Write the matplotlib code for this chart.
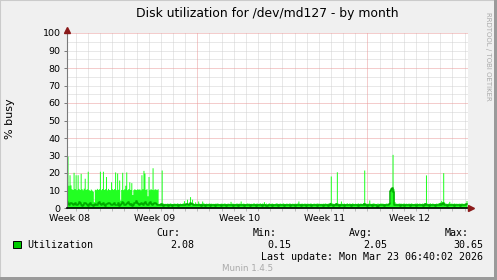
import matplotlib
matplotlib.use("Agg")
import matplotlib.pyplot as plt
from matplotlib.patches import Rectangle
from datetime import datetime, timedelta

W, H = 497, 280

title = "Disk utilization for /dev/md127 - by month"
ylabel = "% busy"
last_update = datetime(2026, 3, 23, 6, 40, 2)
span_days = 33
step_hours = 2
week_labels = ["Week 08", "Week 09", "Week 10", "Week 11", "Week 12"]
ytick_vals = [0, 10, 20, 30, 40, 50, 60, 70, 80, 90, 100]
legend_name = "Utilization"
stat_names = ["Cur:", "Min:", "Avg:", "Max:"]
stat_vals = ["2.08", "0.15", "2.05", "30.65"]

# peak values, one per 2h step (bright green)
util_max = [
    29.7, 13.0, 19.0, 13.2, 11.0, 10.6, 20.4, 11.1, 19.0, 10.5,
    19.0, 11.2, 10.6, 19.8, 11.0, 10.4, 11.3, 17.0, 10.6, 11.0,
    21.0, 10.5, 10.1, 10.8, 10.2, 9.6, 3.6, 10.7, 10.5, 11.2,
    10.6, 11.0, 21.0, 10.5, 11.1, 21.0, 10.6, 11.0, 18.0, 10.4,
    11.2, 10.6, 10.5, 15.0, 11.0, 10.6, 11.1, 20.6, 10.5, 20.0,
    10.7, 16.0, 4.6, 10.6, 20.4, 10.5, 11.0, 13.0, 20.6, 10.5,
    11.1, 15.0, 10.6, 14.5, 7.7, 10.5, 11.0, 10.6, 10.5, 11.1,
    10.6, 11.0, 10.4, 19.0, 11.0, 21.5, 20.0, 10.6, 11.0, 7.0,
    18.0, 10.5, 11.1, 10.6, 23.0, 10.5, 11.0, 10.8, 10.5, 11.0,
    2.6, 2.8, 2.7, 21.7, 2.9, 2.6, 2.7, 2.5, 2.8, 2.7, 2.6, 2.9, 2.7, 2.5, 2.6, 2.8, 2.7, 2.6, 2.9, 2.7,
    2.6, 2.8, 2.5, 2.7, 2.9, 4.2, 2.8, 2.6, 5.0, 2.7, 3.0, 6.5, 3.2, 5.0, 2.8, 2.6, 3.5, 2.7, 2.6, 4.0,
    2.8, 2.6, 2.7, 4.0, 2.9, 2.7, 2.5, 2.8, 2.6, 2.7, 2.9, 2.6, 2.8, 2.5, 2.7, 2.6, 2.8, 2.7, 2.9, 2.6,
    2.5, 2.7, 2.8, 2.6, 2.7, 2.9, 2.6, 2.5, 2.8, 2.7, 2.6, 3.8, 2.7, 2.8, 2.6, 2.5, 2.7, 2.9, 2.6, 2.8,
    2.7, 4.0, 2.6, 2.8, 2.7, 2.5, 2.6, 2.9, 2.7, 2.8, 2.6, 2.7, 2.5, 2.8, 2.9, 2.6, 2.7, 2.8, 2.6, 2.7,
    2.9, 2.6, 2.8, 2.7, 3.6, 2.6, 2.8, 2.5, 2.7, 2.9, 2.6, 2.7, 2.8, 2.6, 2.5, 2.7, 2.9, 2.8, 2.6, 2.7,
    2.8, 2.6, 2.7, 2.9, 2.5, 2.6, 2.8, 2.7, 2.6, 2.9, 2.7, 2.5, 2.8, 2.6, 2.7, 2.8, 2.6, 2.9, 4.0, 2.7,
    2.6, 2.8, 2.7, 2.5, 2.9, 2.6, 2.7, 2.8, 2.6, 2.7, 2.9, 2.5, 2.6, 2.8, 2.7, 2.6, 2.9, 2.7, 2.8, 2.6,
    2.7, 2.5, 2.8, 2.6, 2.9, 2.7, 2.6, 2.8, 2.7, 3.2, 18.3, 2.9, 2.7, 2.6, 2.8, 3.0, 20.7, 2.8, 2.6, 2.7,
    4.0, 2.7, 2.6, 2.8, 2.5, 2.7, 2.9, 2.6, 2.8, 2.7, 2.6, 2.9, 2.7, 2.5, 2.8, 2.6, 2.7, 2.9, 2.6, 2.8,
    2.7, 2.6, 3.1, 21.7, 2.9, 2.7, 2.6, 2.8, 4.6, 2.7, 2.6, 2.8, 2.9, 2.7, 2.5, 2.6, 2.8, 2.7, 2.6, 2.9,
    2.7, 2.8, 2.6, 2.5, 2.7, 2.9, 2.6, 2.8, 3.4, 11.0, 11.5, 30.65, 11.0, 3.6, 2.8, 2.7, 2.6, 2.9, 2.7, 2.8,
    2.6, 2.7, 2.9, 2.5, 2.8, 2.6, 2.7, 2.8, 2.6, 2.9, 2.7, 2.5, 2.6, 2.8, 2.7, 2.9, 2.6, 2.8, 2.7, 2.6,
    2.8, 2.7, 2.9, 3.0, 18.9, 2.8, 2.6, 2.7, 2.9, 2.6, 2.8, 2.7, 2.5, 2.6, 2.8, 2.7, 2.9, 3.1, 3.4, 4.4,
    3.6, 20.2, 3.2, 2.8, 2.7, 2.6, 2.9, 3.8, 2.7, 2.8, 2.6, 2.7, 2.9, 2.5, 2.8, 2.6, 2.7, 2.8, 2.6, 2.9,
    2.7, 2.6, 2.8, 2.9, 4.3, 2.8,
]

# average values, one per 2h step (dark green)
util_avg = [
    3.2, 2.4, 1.8, 2.6, 3.0, 2.1, 1.5, 2.2, 2.8, 1.9, 1.6, 2.4, 3.4, 2.7, 1.8, 1.4, 2.0, 2.6, 3.1, 2.3,
    1.7, 1.3, 2.1, 2.9, 1.8, 1.5, 1.2, 2.0, 2.5, 1.9, 1.6, 2.8, 3.6, 2.4, 1.7, 2.2, 2.9, 1.8, 1.4, 2.1,
    2.6, 3.0, 2.2, 1.7, 1.5, 2.3, 2.8, 2.0, 1.6, 1.9, 2.7, 1.3, 1.8, 2.4, 3.2, 2.6, 1.9, 1.5, 2.2, 2.8,
    3.4, 2.5, 1.8, 2.1, 1.4, 2.0, 2.6, 3.1, 3.8, 2.9, 2.2, 1.7, 2.4, 3.0, 2.3, 1.8, 2.7, 3.3, 2.5, 1.6,
    2.0, 2.9, 3.5, 2.4, 1.8, 2.2, 3.0, 2.6, 2.1, 1.9,
    1.6, 1.5, 1.7, 2.4, 1.6, 1.4, 1.5, 1.7, 1.6, 1.5, 1.4, 1.6, 1.7, 1.5, 1.4, 1.6, 1.5, 1.7, 1.6, 1.5,
    1.4, 1.6, 1.5, 1.7, 1.6, 2.0, 1.5, 1.6, 2.2, 1.7, 1.8, 3.0, 2.1, 2.4, 1.6, 1.5, 1.9, 1.6, 1.5, 1.8,
    1.6, 1.5, 1.4, 1.9, 1.6, 1.5, 1.4, 1.6, 1.7, 1.5, 1.6, 1.4, 1.5, 1.6, 1.7, 1.5, 1.4, 1.6, 1.5, 1.7,
    1.6, 1.5, 1.4, 1.6, 1.5, 1.7, 1.6, 1.4, 1.5, 1.6, 1.5, 1.8, 1.6, 1.5, 1.4, 1.6, 1.7, 1.5, 1.6, 1.4,
    1.5, 1.8, 1.6, 1.5, 1.7, 1.4, 1.5, 1.6, 1.5, 1.7, 1.6, 1.4, 1.5, 1.6, 1.7, 1.5, 1.6, 1.4, 1.5, 1.6,
    1.7, 1.5, 1.6, 1.4, 1.7, 1.5, 1.6, 1.4, 1.5, 1.7, 1.6, 1.5, 1.4, 1.6, 1.5, 1.7, 1.6, 1.5, 1.4, 1.6,
    1.5, 1.6, 1.7, 1.5, 1.4, 1.6, 1.5, 1.7, 1.6, 1.5, 1.4, 1.6, 1.5, 1.7, 1.6, 1.4, 1.5, 1.6, 1.8, 1.5,
    1.6, 1.4, 1.5, 1.7, 1.6, 1.5, 1.4, 1.6, 1.5, 1.7, 1.6, 1.4, 1.5, 1.6, 1.7, 1.5, 1.6, 1.4, 1.5, 1.6,
    1.7, 1.5, 1.6, 1.4, 1.5, 1.7, 1.6, 1.5, 1.4, 1.6, 2.3, 1.6, 1.5, 1.4, 1.6, 1.7, 2.5, 1.6, 1.5, 1.4,
    1.8, 1.6, 1.5, 1.7, 1.4, 1.5, 1.6, 1.5, 1.7, 1.6, 1.4, 1.5, 1.6, 1.5, 1.7, 1.6, 1.5, 1.4, 1.6, 1.5,
    1.7, 1.6, 1.5, 2.4, 1.6, 1.5, 1.4, 1.6, 1.9, 1.5, 1.6, 1.4, 1.5, 1.7, 1.6, 1.5, 0.15, 1.4, 1.6, 1.5,
    1.6, 1.7, 1.5, 1.4, 1.6, 1.5, 1.7, 1.6, 2.2, 9.5, 11.0, 11.2, 9.0, 2.0, 1.6, 1.5, 1.7, 1.6, 1.5, 1.4,
    1.6, 1.5, 1.7, 1.4, 1.5, 1.6, 1.5, 1.7, 1.6, 1.4, 1.5, 1.6, 1.7, 1.5, 1.6, 1.4, 1.5, 1.6, 1.5, 1.7,
    1.6, 1.5, 1.4, 1.7, 2.3, 1.6, 1.5, 1.4, 1.6, 1.5, 1.7, 1.6, 1.5, 1.4, 1.6, 1.7, 1.5, 1.9, 2.2, 2.0,
    2.1, 2.6, 1.8, 1.6, 1.5, 1.4, 1.6, 1.8, 1.5, 1.6, 1.7, 1.5, 1.4, 1.6, 1.5, 1.7, 1.6, 1.5, 1.4, 1.6,
    1.5, 1.7, 1.6, 1.8, 2.1, 2.08,
]


def fpos(x, y):
    # pixel position -> figure fraction
    return x / W, 1 - y / H


start = last_update - timedelta(days=span_days)


def day_of(t):
    return (t - start).total_seconds() / 86400.0


x = [i * step_hours / 24.0 for i in range(len(util_max))]

# week starts on sunday, label mid-week
sunday0 = datetime(start.year, start.month, start.day) - timedelta(days=(start.weekday() + 1) % 7)
week_pos = [day_of(sunday0 + timedelta(days=3.5 + 7 * k)) for k in range(len(week_labels))]
first_midnight = datetime(start.year, start.month, start.day) + timedelta(days=1)
day_lines = [day_of(first_midnight + timedelta(days=k)) for k in range(span_days)]
day_lines = [d for d in day_lines if d < span_days]
red_lines = [day_of(sunday0 + timedelta(days=14 * k)) for k in range(1, 4)]
red_lines = [d for d in red_lines if 0 < d < span_days]

fig = plt.figure(figsize=(W / 100, H / 100), dpi=100, facecolor="#f0f0f0")
ax = fig.add_axes([67 / W, (H - 208) / H, 401 / W, 175 / H])
ax.set_facecolor("white")
ax.set_xlim(0, span_days)
ax.set_ylim(0, 100)
for s in ax.spines.values():
    s.set_visible(False)

dot = (0, (1, 1))
for d in day_lines:
    if any(abs(d - r) < 1e-6 for r in red_lines):
        continue
    ax.axvline(d, color="#d2d2d2", lw=0.72, ls=dot, zorder=1)
for v in range(5, 101, 5):
    if v % 20:
        ax.axhline(v, color="#d2d2d2", lw=0.72, ls=dot, zorder=1)
for r in red_lines:
    ax.axvline(r, color="#eb9a9a", lw=0.72, ls=dot, zorder=1.5)
for v in range(20, 101, 20):
    ax.axhline(v, color="#eb9a9a", lw=0.72, ls=dot, zorder=1.5)

ax.fill_between(x, util_max, step="post", color="#22ff22", lw=0, zorder=2)
ax.plot(x, util_avg, drawstyle="steps-post", color="#00aa00", lw=1.1, zorder=3)

# axes lines and arrows
ax.plot([0, 0], [0, 1.03], transform=ax.transAxes, color="#7a7a7a", lw=0.8, clip_on=False, zorder=4)
ax.plot([0, 1.006], [0, 0], transform=ax.transAxes, color="black", lw=1.2, clip_on=False, zorder=4)
ax.plot([0], [1.02], transform=ax.transAxes, marker="^", ms=4, color="#8b1a1a", clip_on=False, zorder=5)
ax.plot([1.0075], [0], transform=ax.transAxes, marker=">", ms=4, color="#8b1a1a", clip_on=False, zorder=5)

ax.set_yticks(ytick_vals)
ax.set_yticklabels([str(v) for v in ytick_vals], fontsize=6.8)
ax.tick_params(axis="y", length=2.2, width=0.7, color="#7a7a7a", pad=2.5)
ax.set_xticks(week_pos)
ax.set_xticklabels(week_labels, fontsize=6.8)
ax.set_xticks(day_lines, minor=True)
ax.tick_params(axis="x", which="major", length=0, pad=4)
ax.tick_params(axis="x", which="minor", length=2, width=0.7, color="#bbbbbb")

fig.text(*fpos(267, 13.5), title, ha="center", va="center", fontsize=8.9)
fig.text(*fpos(10, 119), ylabel, rotation=90, ha="center", va="center", fontsize=8)
fig.text(*fpos(488, 56), "RRDTOOL / TOBI OETIKER", rotation=270, ha="center", va="center",
         fontsize=5, color="#aaaaaa")

mono = "DejaVu Sans Mono"
fs = 7.2
label_right = [180, 277, 373, 469]
for name, val, xr in zip(stat_names, stat_vals, label_right):
    fig.text(*fpos(xr, 233), name, ha="right", va="center", family=mono, fontsize=fs)
    fig.text(*fpos(xr + 14, 244.5), val, ha="right", va="center", family=mono, fontsize=fs)
fig.text(*fpos(27, 244.5), legend_name, ha="left", va="center", family=mono, fontsize=fs)
fig.patches.append(Rectangle(fpos(13, 248), 8 / W, 7 / H, transform=fig.transFigure,
                             facecolor="#00cc00", edgecolor="black", lw=0.7))
fig.text(*fpos(483, 257), "Last update: " + last_update.strftime("%a %b %d %H:%M:%S %Y"),
         ha="right", va="center", family=mono, fontsize=fs)
fig.text(*fpos(248, 268.5), "Munin 1.4.5", ha="center", va="center", fontsize=6.3, color="#aaaaaa")

# frame
fig.patches.append(Rectangle((0, 0), 1, 1, transform=fig.transFigure, fill=False,
                             edgecolor="#cbcbcb", lw=1.5))
fig.patches.append(Rectangle(fpos(494, 280), 3 / W, 1, transform=fig.transFigure,
                             facecolor="#9a9a9a", lw=0))
fig.patches.append(Rectangle(fpos(0, 280), 1, 3 / H, transform=fig.transFigure,
                             facecolor="#9a9a9a", lw=0))

fig.savefig("out.png", dpi=100, facecolor=fig.get_facecolor())
